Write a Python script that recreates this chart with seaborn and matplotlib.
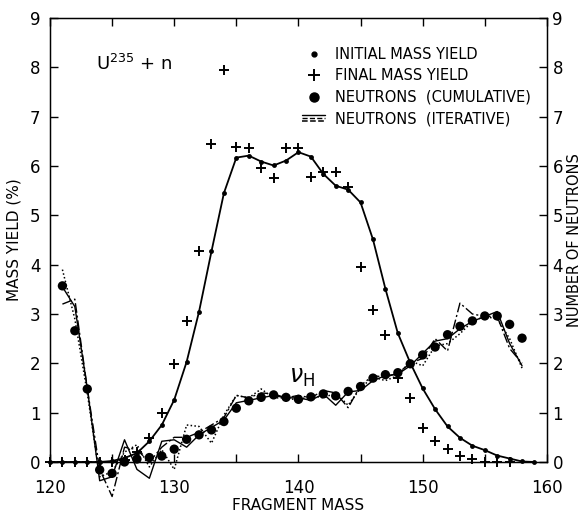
import numpy as np
import pandas as pd
import matplotlib
matplotlib.use("Agg")
import matplotlib.pyplot as plt
import seaborn as sns
from matplotlib.lines import Line2D
from matplotlib.legend_handler import HandlerBase

# Initial mass yield (small dots joined by a line)
initial_mass = list(range(120, 160))
initial_yield = [0, 0, 0, 0, 0, 0.02, 0.08, 0.18, 0.42, 0.75,
                 1.26, 2.03, 3.05, 4.27, 5.45, 6.17, 6.21, 6.09, 6.01, 6.11,
                 6.28, 6.19, 5.84, 5.60, 5.52, 5.26, 4.51, 3.51, 2.61, 2.01,
                 1.49, 1.07, 0.72, 0.49, 0.33, 0.24, 0.13, 0.07, 0.01, 0.0]

# Final mass yield (+ marks)
final_mass = list(range(120, 158))
final_yield = [0, 0, 0, 0, 0, 0, 0.05, 0.21, 0.48, 0.99,
               1.99, 2.86, 4.28, 6.45, 7.94, 6.38, 6.36, 5.95, 5.75, 6.36,
               6.36, 5.77, 5.87, 5.87, 5.58, 3.96, 3.08, 2.58, 1.70, 1.29,
               0.68, 0.43, 0.26, 0.13, 0.07, 0.0, 0.0, 0.0]

# Neutrons, cumulative (large dots) and three iterative curves
neutron_mass = list(range(121, 159))
neutrons_cum = [3.57, 2.66, 1.48, -0.16, -0.23, 0.0, 0.06, 0.09, 0.12, 0.26,
                0.46, 0.55, 0.65, 0.82, 1.09, 1.24, 1.31, 1.36, 1.31, 1.27,
                1.32, 1.38, 1.34, 1.43, 1.53, 1.70, 1.77, 1.81, 1.99, 2.17,
                2.33, 2.58, 2.75, 2.86, 2.96, 2.96, 2.79, 2.51]
iter_solid = [3.55, 3.15, 1.50, -0.38, -0.30, 0.45, -0.15, -0.33, 0.42, 0.45,
              0.30, 0.55, 0.70, 0.85, 1.20, 1.25, 1.30, 1.35, 1.30, 1.30,
              1.25, 1.38, 1.15, 1.42, 1.45, 1.65, 1.75, 1.78, 1.95, 2.20,
              2.45, 2.50, 2.70, 2.85, 2.95, 3.05, 2.40, 1.95]
iter_dashdot = [3.20, 3.30, 1.50, -0.15, -0.70, 0.30, 0.25, 0.00, 0.30, 0.50,
                0.50, 0.60, 0.75, 0.90, 1.35, 1.30, 1.40, 1.38, 1.30, 1.35,
                1.30, 1.45, 1.40, 1.10, 1.55, 1.75, 1.72, 1.80, 2.00, 2.10,
                2.50, 2.25, 3.22, 3.00, 2.95, 2.95, 2.30, 2.00]
iter_dotted = [3.90, 2.90, 1.40, -0.30, -0.20, 0.20, 0.35, -0.10, 0.25, -0.15,
               0.75, 0.72, 0.38, 0.95, 1.35, 1.30, 1.48, 1.30, 1.30, 1.25,
               1.35, 1.30, 1.40, 1.15, 1.50, 1.72, 1.65, 1.75, 2.05, 1.95,
               2.35, 2.40, 2.60, 2.85, 2.95, 2.90, 2.50, 1.90]

legend_labels = ["INITIAL MASS YIELD", "FINAL MASS YIELD",
                 "NEUTRONS  (CUMULATIVE)", "NEUTRONS  (ITERATIVE)"]

sns.set_style("ticks")
plt.rcParams['font.family'] = ['DejaVu Sans']
plt.rcParams.update({"text.color": "black", "axes.labelcolor": "black",
                     "xtick.color": "black", "ytick.color": "black",
                     "axes.edgecolor": "black"})


class StackedLines(HandlerBase):
    # three short lines drawn one above the other for the iterative curves
    def create_artists(self, legend, orig_handle, xdescent, ydescent,
                       width, height, fontsize, trans):
        arts = []
        for i, h in enumerate(orig_handle):
            y = height * (0.85 - 0.3 * i) - ydescent
            arts.append(Line2D([-xdescent, -xdescent + width], [y, y],
                               color="black", lw=h.get_linewidth(),
                               linestyle=h.get_linestyle(), transform=trans))
        return arts


fig = plt.figure(figsize=(5.86, 5.14), dpi=100)
ax = fig.add_axes([0.0853, 0.1012, 0.848, 0.8638])

init_df = pd.DataFrame({"mass": initial_mass, "yield": initial_yield})
final_df = pd.DataFrame({"mass": final_mass, "yield": final_yield})
neut_df = pd.DataFrame({"mass": neutron_mass, "cum": neutrons_cum,
                        "solid": iter_solid, "dashdot": iter_dashdot,
                        "dotted": iter_dotted})

sns.lineplot(data=neut_df, x="mass", y="solid", ax=ax, color="black",
             lw=1.0, linestyle="-", clip_on=False)
sns.lineplot(data=neut_df, x="mass", y="dashdot", ax=ax, color="black",
             lw=1.0, linestyle=(0, (7, 2, 1.5, 2)), clip_on=False)
sns.lineplot(data=neut_df, x="mass", y="dotted", ax=ax, color="black",
             lw=1.1, linestyle=(0, (1, 1.5)), clip_on=False)
sns.lineplot(data=init_df, x="mass", y="yield", ax=ax, color="black",
             lw=1.3, marker="o", markersize=3.5, markeredgewidth=0,
             clip_on=False)
sns.scatterplot(data=final_df, x="mass", y="yield", ax=ax, color="black",
                marker="+", s=60, linewidth=1.4, clip_on=False)
sns.scatterplot(data=neut_df, x="mass", y="cum", ax=ax, color="black",
                marker="o", s=45, edgecolor="none", clip_on=False, zorder=5)

ax.set_xlim(120, 160)
ax.set_ylim(0, 9)
ax.set_xticks([120, 130, 140, 150, 160])
ax.set_xticks([125, 135, 145, 155], minor=True)
ax.set_yticks(range(0, 10))
ax.tick_params(direction="in", length=6, width=1, labelsize=12,
               top=True, right=False)
ax.tick_params(axis="x", pad=12)
ax.tick_params(axis="y", pad=7)
ax.tick_params(which="minor", direction="in", length=6, width=1, top=True)
ax.set_xlabel("FRAGMENT MASS", fontsize=11, labelpad=1)
ax.set_ylabel("MASS YIELD (%)", fontsize=11, labelpad=6)
for s in ax.spines.values():
    s.set_linewidth(1.0)

ax2 = ax.twinx()
ax2.set_ylim(0, 9)
ax2.set_yticks(range(0, 10))
ax2.tick_params(direction="in", length=6, width=1, labelsize=12, pad=4)
ax2.set_ylabel("NUMBER OF NEUTRONS", fontsize=10.5, rotation=90, labelpad=3)

ax.text(123.7, 7.95, "U$^{235}$ + n", fontsize=13)
ax.text(139.2, 1.6, r"$\nu_{\rm H}$", fontsize=17)

h_init = Line2D([], [], color="black", marker="o", markersize=3.5,
                linestyle="none")
h_final = Line2D([], [], color="black", marker="+", markersize=8,
                 markeredgewidth=1.4, linestyle="none")
h_cum = Line2D([], [], color="black", marker="o", markersize=6.5,
               linestyle="none")
h_iter = (Line2D([], [], lw=1.0, linestyle="-"),
          Line2D([], [], lw=1.0, linestyle=(0, (7, 2, 1.5, 2))),
          Line2D([], [], lw=1.1, linestyle=(0, (1, 1.5))))
ax.legend([h_init, h_final, h_cum, h_iter], legend_labels,
          handler_map={tuple: StackedLines()}, loc="upper right",
          bbox_to_anchor=(0.995, 0.965), frameon=False, fontsize=10.5,
          handlelength=1.6, labelspacing=0.45, handletextpad=0.7)

fig.savefig("out.png", dpi=100)
